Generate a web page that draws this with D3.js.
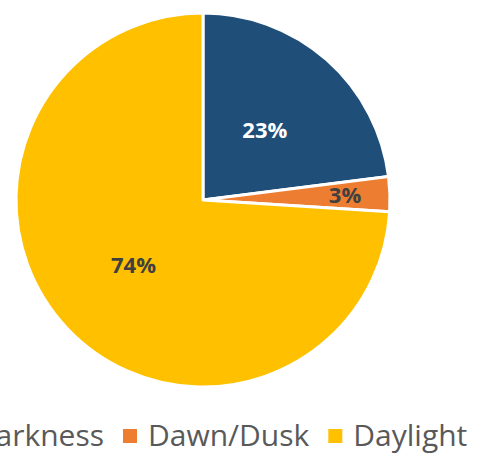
<!DOCTYPE html>
<html>
<head>
<meta charset="utf-8">
<script src="https://cdn.jsdelivr.net/npm/d3@7"></script>
<style>
  html, body { margin: 0; padding: 0; background: #fff; }
  svg { display: block; }
</style>
</head>
<body>
<svg id="chart" width="477" height="454"></svg>
<script>
// Share of the day by light condition
const categories = ["Darkness", "Dawn/Dusk", "Daylight"];
const values = [23, 3, 74];
const labels = ["23%", "3%", "74%"];
const colors = ["#1F4E79", "#ED7D31", "#FFC000"];
const labelColors = ["#ffffff", "#404040", "#404040"];
const labelRadius = [0.50, 0.76, 0.51];

const svg = d3.select("#chart");
const cx = 203, cy = 200, r = 187;
const font = "'Open Sans', 'Noto Sans', sans-serif";

const pie = d3.pie().sort(null).value(d => d)(values);
const arc = d3.arc().innerRadius(0).outerRadius(r);

const g = svg.append("g").attr("transform", `translate(${cx},${cy})`);

g.selectAll("path.slice")
  .data(pie)
  .join("path")
  .attr("class", "slice")
  .attr("d", arc)
  .attr("fill", (d, i) => colors[i])
  .attr("stroke", "#fff")
  .attr("stroke-width", 3)
  .attr("stroke-linejoin", "round");

g.selectAll("text.value")
  .data(pie)
  .join("text")
  .attr("class", "value")
  .attr("transform", (d, i) => {
    const a = (d.startAngle + d.endAngle) / 2;
    const rr = r * labelRadius[i];
    return `translate(${rr * Math.sin(a)},${-rr * Math.cos(a)})`;
  })
  .attr("text-anchor", "middle")
  .attr("dy", "0.36em")
  .attr("font-family", font)
  .attr("font-weight", "bold")
  .attr("font-size", 22)
  .attr("fill", (d, i) => labelColors[i])
  .text((d, i) => labels[i]);

// Legend along the bottom; it runs past the left edge of the canvas
const legend = svg.append("g");
const box = 14, boxGap = 11, itemGap = 19, baseline = 446;
const items = legend.selectAll("g.item")
  .data(categories)
  .join("g")
  .attr("class", "item");

items.append("rect")
  .attr("width", box).attr("height", box)
  .attr("y", baseline - 17)
  .attr("fill", (d, i) => colors[i]);

items.append("text")
  .attr("x", box + boxGap)
  .attr("y", baseline)
  .attr("font-family", font)
  .attr("font-size", 30)
  .attr("fill", "#595959")
  .text(d => d);

const widths = items.nodes().map(n => d3.select(n).select("text").node().getComputedTextLength());
// anchor the second entry's text at x = 148
let x0 = 148 - (box + boxGap) - (widths[0] + box + boxGap + itemGap);
items.attr("transform", (d, i) => {
  const x = x0;
  x0 += box + boxGap + widths[i] + itemGap;
  return `translate(${x},0)`;
});
</script>
</body>
</html>
